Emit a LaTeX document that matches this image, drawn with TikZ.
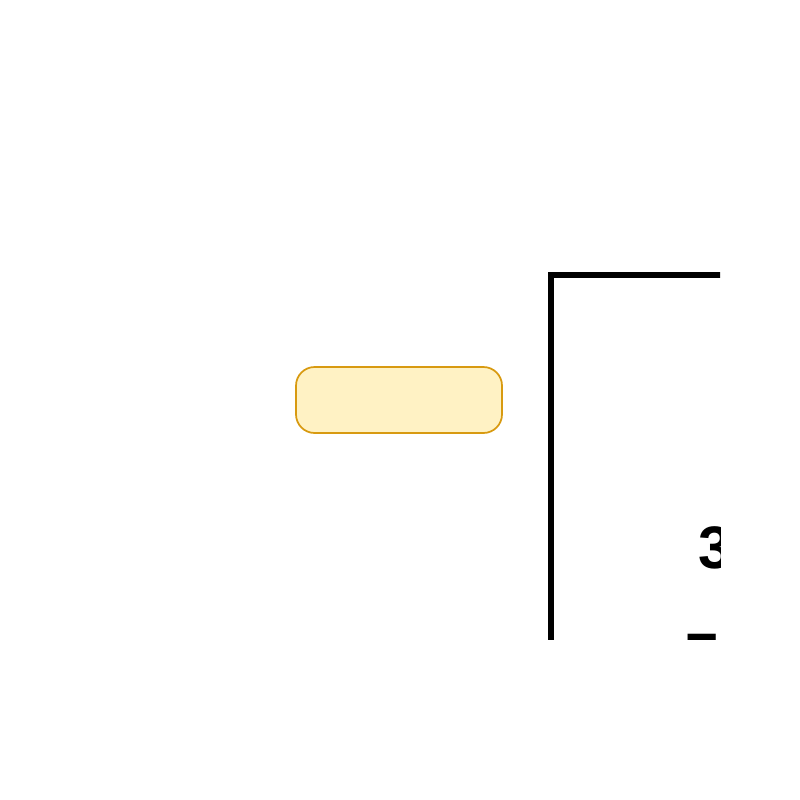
\documentclass[tikz,border=0pt]{standalone}
\usepackage{fontspec}
\setmainfont{Liberation Sans}
\definecolor{boxfill}{HTML}{FFF2C4}
\definecolor{boxline}{HTML}{D89A10}
\tikzset{
  digit/.style={anchor=base west, inner sep=0pt, font=\bfseries\fontsize{45}{54}\selectfont},
}
\begin{document}
\begin{tikzpicture}[x=0.75pt,y=-0.75pt]
  \useasboundingbox (0,0) rectangle (800,800);
  \node (label) [draw=boxline, fill=boxfill, line width=1.3pt, rounded corners=14pt,
    minimum width=154.5pt, minimum height=49.5pt] at (399,400) {};
  \begin{scope}
    \clip (0,0) rectangle (720,639);
    \draw [line width=5.2pt] (551,275) rectangle (1000,1000);
    \node (three) [digit] at (698,568) {3};
    \node (seven) [digit] at (685.5,675) {7};
  \end{scope}
\end{tikzpicture}
\end{document}
